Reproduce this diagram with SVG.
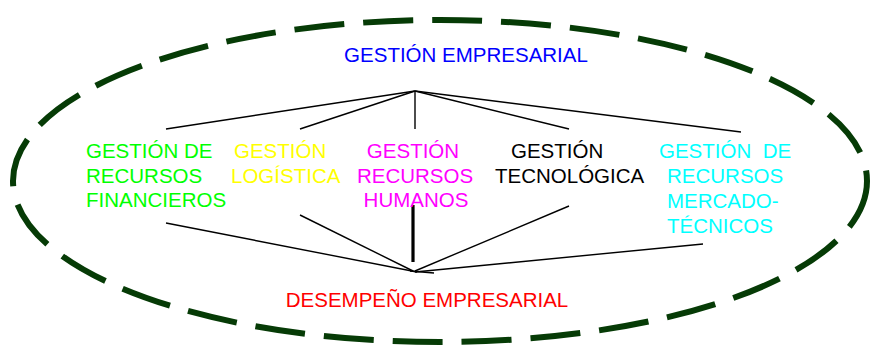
<svg xmlns="http://www.w3.org/2000/svg" width="870" height="345" viewBox="0 0 870 345">
<style>
text{font-family:"Liberation Sans",Arial,sans-serif;font-size:20.5px}
.c{stroke:#000;stroke-width:1.4;fill:none}
</style>
<rect width="870" height="345" fill="#fff"/>
<g id="boundary">
<ellipse cx="440" cy="181" rx="427" ry="161" fill="none" stroke="#063b06" stroke-width="6" stroke-dasharray="50 19"/>
</g>
<g id="connectors">
<line class="c" x1="415" y1="91" x2="166" y2="129"/>
<line class="c" x1="415" y1="91" x2="300" y2="129"/>
<line class="c" x1="415" y1="91" x2="415" y2="129"/>
<line class="c" x1="415" y1="91" x2="569" y2="129"/>
<line class="c" x1="415" y1="91" x2="741" y2="132"/>
<line class="c" x1="166" y1="223" x2="417" y2="272"/>
<line class="c" x1="300" y1="215" x2="413" y2="271"/>
<line x1="413" y1="205" x2="413" y2="262" stroke="#000" stroke-width="3.2"/>
<line class="c" x1="569" y1="206" x2="415" y2="271"/>
<line class="c" x1="703" y1="244" x2="415" y2="272"/>
<line class="c" x1="410" y1="271" x2="434" y2="273"/>
</g>
<g id="gestion-empresarial"><text x="466" y="62" text-anchor="middle" fill="#0000ff">GESTIÓN EMPRESARIAL</text></g>
<g id="financieros" fill="#00ff00">
<text x="86" y="158" fill="#00ff00">GESTIÓN DE</text>
<text x="86" y="183" fill="#00ff00">RECURSOS</text>
<text x="86" y="207" fill="#00ff00">FINANCIEROS</text>
</g>
<g id="logistica">
<text x="234" y="158" fill="#ffff00">GESTIÓN</text>
<text x="231" y="183" fill="#ffff00">LOGÍSTICA</text>
</g>
<g id="humanos">
<text x="413" y="158" text-anchor="middle" fill="#ff00ff">GESTIÓN</text>
<text x="415" y="183" text-anchor="middle" fill="#ff00ff">RECURSOS</text>
<text x="416" y="207" text-anchor="middle" fill="#ff00ff">HUMANOS</text>
</g>
<g id="tecnologica">
<text x="511" y="158" fill="#000">GESTIÓN</text>
<text x="495" y="183" fill="#000">TECNOLÓGICA</text>
</g>
<g id="mercadotecnicos">
<text x="659" y="158" fill="#00ffff" xml:space="preserve">GESTIÓN  DE</text>
<text x="667" y="183" fill="#00ffff">RECURSOS</text>
<text x="667" y="208" fill="#00ffff">MERCADO-</text>
<text x="667" y="233" fill="#00ffff">TÉCNICOS</text>
</g>
<g id="desempeno"><text x="427" y="307" text-anchor="middle" fill="#ff0000">DESEMPEÑO EMPRESARIAL</text></g>
</svg>
